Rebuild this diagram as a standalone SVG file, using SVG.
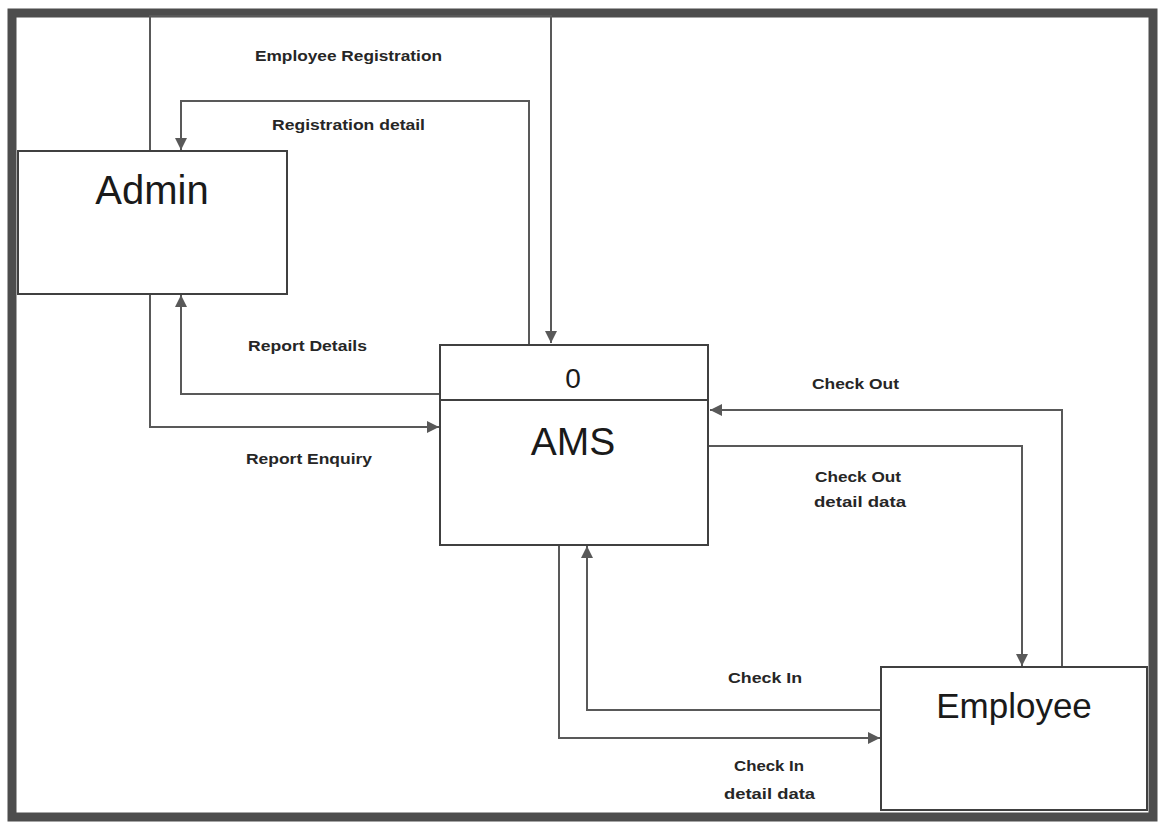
<svg xmlns="http://www.w3.org/2000/svg" width="1160" height="827" viewBox="0 0 1160 827">
<style>
.box{fill:#fff;stroke:#404040;stroke-width:2}
.flow{fill:none;stroke:#595959;stroke-width:2}
.lbl{font-family:"Liberation Sans",Arial,sans-serif;font-weight:bold;font-size:15px;fill:#262626;text-anchor:start}
.big{font-family:"Liberation Sans",Arial,sans-serif;fill:#1a1a1a;text-anchor:middle}
</style>
<defs>
<marker id="ah" markerWidth="12" markerHeight="12" refX="10" refY="5" orient="auto" markerUnits="userSpaceOnUse" viewBox="0 0 10 10">
<path d="M0,0 L10,5 L0,10 z" fill="#595959"/>
</marker>
</defs>
<rect x="0" y="0" width="1160" height="827" fill="#fff"/>
<rect id="frame" x="12" y="13" width="1141" height="804" fill="none" stroke="#4d4d4d" stroke-width="9"/>
<g id="connectors">
<path class="flow" d="M150,151 V16 H551 V343" marker-end="url(#ah)"/>
<path class="flow" d="M529,344 V101 H181 V150" marker-end="url(#ah)"/>
<path class="flow" d="M440,394 H181 V295" marker-end="url(#ah)"/>
<path class="flow" d="M150,294 V427 H439" marker-end="url(#ah)"/>
<path class="flow" d="M1062,667 V410 H710" marker-end="url(#ah)"/>
<path class="flow" d="M709,446 H1022 V666" marker-end="url(#ah)"/>
<path class="flow" d="M881,710 H587 V546" marker-end="url(#ah)"/>
<path class="flow" d="M559,545 V738 H880" marker-end="url(#ah)"/>
</g>
<g id="labels">
<text class="lbl" x="255" y="61" textLength="187" lengthAdjust="spacingAndGlyphs">Employee Registration</text>
<text class="lbl" x="272" y="130" textLength="153" lengthAdjust="spacingAndGlyphs">Registration detail</text>
<text class="lbl" x="248" y="351" textLength="119" lengthAdjust="spacingAndGlyphs">Report Details</text>
<text class="lbl" x="246" y="464" textLength="126" lengthAdjust="spacingAndGlyphs">Report Enquiry</text>
<text class="lbl" x="812" y="389" textLength="87" lengthAdjust="spacingAndGlyphs">Check Out</text>
<text class="lbl" x="815" y="482" textLength="86" lengthAdjust="spacingAndGlyphs">Check Out</text>
<text class="lbl" x="814" y="507" textLength="92" lengthAdjust="spacingAndGlyphs">detail data</text>
<text class="lbl" x="728" y="683" textLength="74" lengthAdjust="spacingAndGlyphs">Check In</text>
<text class="lbl" x="734" y="771" textLength="70" lengthAdjust="spacingAndGlyphs">Check In</text>
<text class="lbl" x="724" y="799" textLength="91" lengthAdjust="spacingAndGlyphs">detail data</text>
</g>
<g id="admin">
<rect class="box" x="18" y="151" width="269" height="143"/>
<text class="big" x="152" y="204" font-size="40">Admin</text>
</g>
<g id="ams">
<rect class="box" x="440" y="345" width="268" height="200"/>
<line x1="440" y1="400" x2="708" y2="400" stroke="#404040" stroke-width="2"/>
<text class="big" x="573" y="388" font-size="28">0</text>
<text class="big" x="573" y="455" font-size="39">AMS</text>
</g>
<g id="employee">
<rect class="box" x="881" y="667" width="266" height="143"/>
<text class="big" x="1014" y="718" font-size="35">Employee</text>
</g>
</svg>
